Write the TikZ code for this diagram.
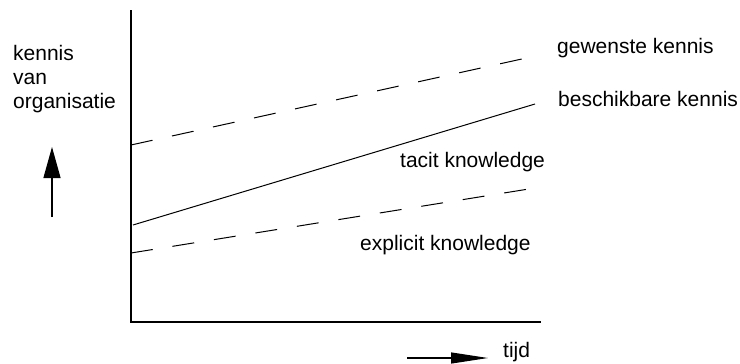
\documentclass[tikz,border=0pt]{standalone}
\usepackage{fontspec}
\setmainfont{Liberation Sans}
\usetikzlibrary{arrows.meta}
\begin{document}
\begin{tikzpicture}[x=1pt,y=-1pt,
  lbl/.style={anchor=base west,inner sep=0pt,font=\fontsize{21}{24}\selectfont},
  axisline/.style={line width=1.4pt},
  dashline/.style={line width=1pt,dash pattern=on 22pt off 20pt},
  solidline/.style={line width=1pt}]
\useasboundingbox (0,0) rectangle (740,364);
% axes
\coordinate (ytop) at (131,10);
\coordinate (orig) at (131,322);
\coordinate (xend) at (541,322);
\draw[axisline] (ytop) -- (orig) -- (xend);
% lines
\coordinate (g0) at (131,145);
\coordinate (g1) at (540,55);
\coordinate (b0) at (133,225);
\coordinate (b1) at (535,104);
\coordinate (e0) at (131,253);
\coordinate (e1) at (535,188);
\draw[dashline] (g0) -- (g1);
\draw[solidline] (b0) -- (b1);
\draw[dashline] (e0) -- (e1);
% labels
\node[lbl] (gew) at (557,53) {gewenste kennis};
\node[lbl] (bes) at (558,106) {beschikbare kennis};
\node[lbl] (tac) at (400,167) {tacit knowledge};
\node[lbl] (exp) at (360,250) {explicit knowledge};
\node[lbl] (tij) at (503,357) {tijd};
\node[lbl] (k1) at (13,60) {kennis};
\node[lbl] (k2) at (13,84) {van};
\node[lbl] (k3) at (13,108) {organisatie};
% arrows
\coordinate (ua0) at (52,217);
\coordinate (ua1) at (52,147);
\draw[line width=1.2pt,-{Triangle[length=31pt,width=17pt]}] (ua0) -- (ua1);
\coordinate (ta0) at (407,358);
\coordinate (ta1) at (488,358);
\draw[line width=1.2pt,-{Triangle[length=37pt,width=11pt]}] (ta0) -- (ta1);
\end{tikzpicture}
\end{document}
